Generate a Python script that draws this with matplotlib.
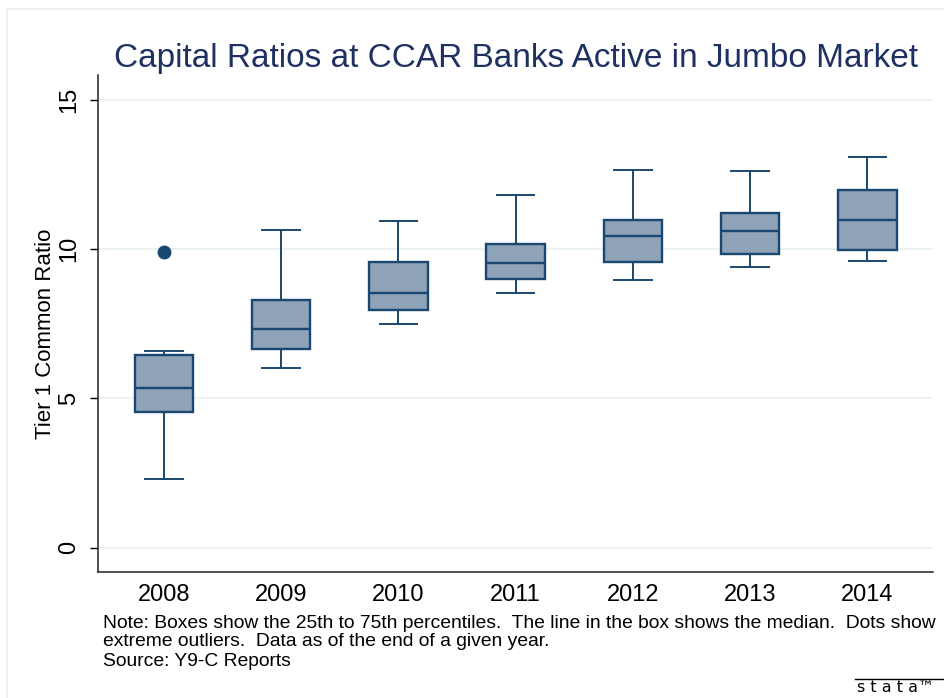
import numpy as np
import matplotlib
matplotlib.use('Agg')
import matplotlib.pyplot as plt
from matplotlib.lines import Line2D
from matplotlib.patches import Rectangle

plt.rcParams['font.family'] = ['Liberation Sans', 'DejaVu Sans']

years = ['2008', '2009', '2010', '2011', '2012', '2013', '2014']
whis_lo = [2.29, 6.01, 7.48, 8.52, 8.96, 9.39, 9.60]
q1 = [4.56, 6.66, 7.96, 9.01, 9.56, 9.85, 9.98]
med = [5.36, 7.33, 8.53, 9.55, 10.44, 10.61, 10.97]
q3 = [6.45, 8.30, 9.56, 10.17, 10.99, 11.22, 11.98]
whis_hi = [6.58, 10.63, 10.96, 11.81, 12.66, 12.62, 13.09]
outliers = [[9.92], [], [], [], [], [], []]

navy = '#1a476f'
fill = '#8ea3b8'

stats = []
for i in range(len(years)):
    stats.append(dict(label=years[i], whislo=whis_lo[i], q1=q1[i], med=med[i],
                      q3=q3[i], whishi=whis_hi[i], fliers=outliers[i]))

fig = plt.figure(figsize=(9.44, 6.98), dpi=100)
fig.patches.append(Rectangle((7 / 944, -0.1), 1.2, 1 - 9 / 698 + 0.1,
                             transform=fig.transFigure, fill=False,
                             edgecolor='#e6eef2', linewidth=1.2))

ax = fig.add_axes([98.3 / 944, 1 - 571.7 / 698, (933 - 98.3) / 944, (571.7 - 75) / 698])

ax.bxp(stats, positions=np.arange(1, len(years) + 1), widths=0.5,
       patch_artist=True, showfliers=True,
       boxprops=dict(facecolor=fill, edgecolor=navy, linewidth=1.7),
       medianprops=dict(color=navy, linewidth=1.7),
       whiskerprops=dict(color=navy, linewidth=1.4),
       capprops=dict(color=navy, linewidth=1.4),
       capwidths=0.32,
       flierprops=dict(marker='o', markersize=9, markerfacecolor=navy,
                       markeredgecolor=navy))

ax.set_xlim(0.44, 7.56)
ax.set_ylim(-0.81, 15.84)
ax.set_yticks([0, 5, 10, 15])
ax.set_yticklabels(['0', '5', '10', '15'], rotation=90, va='center', fontsize=17)
ax.tick_params(axis='y', length=6, width=1, pad=7)
ax.tick_params(axis='x', length=0, pad=9, labelsize=17)
ax.grid(axis='y', color='#eaf2f3', linewidth=1.5)
ax.set_axisbelow(True)
for s in ['top', 'right']:
    ax.spines[s].set_visible(False)
for s in ['left', 'bottom']:
    ax.spines[s].set_linewidth(1.1)
    ax.spines[s].set_color('#222222')

fig.text(516 / 944, 1 - 67 / 698, 'Capital Ratios at CCAR Banks Active in Jumbo Market',
         ha='center', va='baseline', fontsize=24, color='#1e3160')
fig.text(46 / 944, 1 - 334 / 698, 'Tier 1 Common Ratio', rotation=90,
         ha='center', va='center', fontsize=16)

note = ['Note: Boxes show the 25th to 75th percentiles.  The line in the box shows the median.  Dots show',
        'extreme outliers.  Data as of the end of a given year.',
        'Source: Y9-C Reports']
for k, line in enumerate(note):
    fig.text(103 / 944, 1 - (623 + 19 * k) / 698, line, ha='left', va='center', fontsize=13.85)

fig.add_artist(Line2D([855 / 944, 1.0], [1 - 679 / 698] * 2, color='black', linewidth=1,
                      transform=fig.transFigure))
fig.text(857 / 944, 1 - 688 / 698, 's t a t a™', ha='left', va='center', fontsize=11.5,
         family='DejaVu Sans')

fig.savefig('out.png', dpi=100)
